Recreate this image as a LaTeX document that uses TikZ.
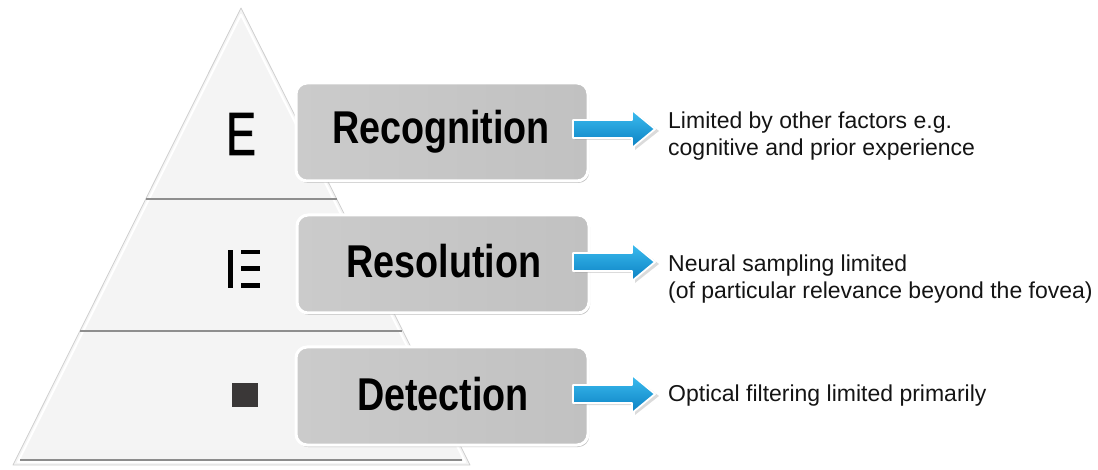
\documentclass[tikz,border=0pt]{standalone}
\usepackage{fontspec}
\setmainfont{Liberation Sans}
\newfontfamily\stagefont[FakeStretch=0.82]{Liberation Sans Bold}
\newfontfamily\optofont[FakeStretch=0.73,FakeBold=1.6]{Liberation Sans}
\usetikzlibrary{shadows}
\definecolor{trifill}{HTML}{F4F4F4}
\definecolor{triedge}{HTML}{CFCFCF}
\definecolor{divline}{HTML}{8E8E8E}
\definecolor{boxleft}{HTML}{CBCBCB}
\definecolor{boxright}{HTML}{C1C1C1}
\definecolor{arrtop}{HTML}{3CBDF0}
\definecolor{arrbot}{HTML}{0B80C2}
\definecolor{iconfill}{HTML}{3A3737}
\newcommand\bluearrow[1]{%
  \path[fill=black!40, opacity=.35]
    (575,{#1-7}) -- (635,{#1-7}) -- (635,{#1-17}) -- (659,{#1+2}) -- (635,{#1+21}) -- (635,{#1+11}) -- (575,{#1+11}) -- cycle;
  \path[top color=arrtop, bottom color=arrbot, draw=white, line width=1.8pt, line join=round]
    (573,{#1-9}) -- (632,{#1-9}) -- (632,{#1-19}) -- (655,{#1}) -- (632,{#1+19}) -- (632,{#1+9}) -- (573,{#1+9}) -- cycle;}
\begin{document}
\begin{tikzpicture}[x=1pt,y=-1pt,
  stage/.style={rounded corners=11pt, draw=white, line width=3pt,
    left color=boxleft, right color=boxright,
    minimum width=292pt, minimum height=98pt, inner sep=0pt,
    drop shadow={shadow xshift=1.2pt, shadow yshift=-2pt, opacity=.35, fill=black!70}},
  stagelabel/.style={font=\stagefont\fontsize{46}{50}\selectfont, anchor=base, inner sep=0pt, text=black},
  desc/.style={font=\fontsize{23}{27}\selectfont, align=left, inner sep=0pt, text=black!92},
  bar/.style={fill=black}]
\useasboundingbox (0,0) rectangle (1098,470);
% pyramid
\coordinate (apex) at (241,8);
\coordinate (bl) at (13,465);
\coordinate (br) at (470,465);
\path[fill=trifill, draw=triedge, line width=0.8pt, line join=round] (apex) -- (bl) -- (br) -- cycle;
\draw[white, line width=2pt, line join=round] (241,14.7) -- (17.9,462) -- (465.1,462) -- cycle;
\draw[black!45, line width=2pt] (20,460) -- (462,460);
\draw[divline, line width=1.4pt] (146,199) -- (337,199);
\draw[divline, line width=1.4pt] (80,331) -- (402,331);
% icons
\node[font=\optofont\fontsize{61}{61}\selectfont, anchor=base, inner sep=0pt] (iconE) at (241,155) {E};
\fill[bar] (228,250) rectangle (233,288);
\fill[bar] (240.5,250) rectangle (260,254.5);
\fill[bar] (240.5,266) rectangle (260,271);
\fill[bar] (240.5,283) rectangle (260,288);
\node[fill=iconfill, minimum width=26pt, minimum height=24pt, inner sep=0pt] (iconsq) at (245,395) {};
% stage boxes
\node[stage] (rec) at (442,132) {};
\node[stage] (res) at (443,264) {};
\node[stage] (det) at (442,396) {};
\node[stagelabel] (recl) at (441,144) {Recognition};
\node[stagelabel] (resl) at (444,278) {Resolution};
\node[stagelabel] (detl) at (443,410) {Detection};
% arrows
\bluearrow{129}
\bluearrow{262}
\bluearrow{394}
% descriptions
\node[desc, anchor=west] (d1) at (668,136) {Limited by other factors e.g.\\cognitive and prior experience};
\node[desc, anchor=west] (d2) at (668,279) {Neural sampling limited\\(of particular relevance beyond the fovea)};
\node[desc, anchor=base west] (d3) at (668,401) {Optical filtering limited primarily};
\end{tikzpicture}
\end{document}
